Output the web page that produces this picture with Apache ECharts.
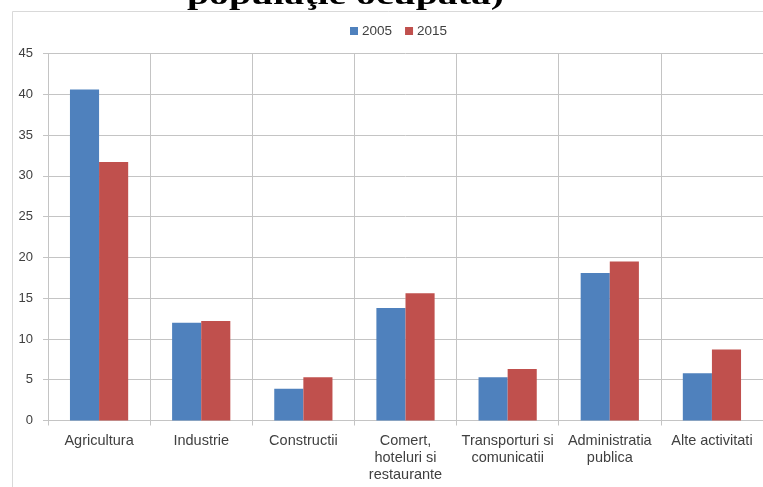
<!DOCTYPE html>
<html>
<head>
<meta charset="utf-8">
<script src="https://cdn.jsdelivr.net/npm/echarts@6/dist/echarts.min.js"></script>
<style>
  html, body { margin: 0; padding: 0; background: #ffffff; }
  #chart { width: 763px; height: 487px; }
</style>
</head>
<body>
<div id="chart"></div>
<script>
// Employment structure by sector (% of employed population)
const categories = [
  'Agricultura',
  'Industrie',
  'Constructii',
  'Comert,\nhoteluri si\nrestaurante',
  'Transporturi si\ncomunicatii',
  'Administratia\npublica',
  'Alte activitati'
];
const seriesNames = ['2005', '2015'];
const values2005 = [40.6, 12.0, 3.9, 13.8, 5.3, 18.1, 5.8];
const values2015 = [31.7, 12.2, 5.3, 15.6, 6.3, 19.5, 8.7];
const yTicks = { min: 0, max: 45, step: 5 };
const titleText = 'populaţie ocupată)';

const gridColor = '#c4c4c4';
const labelColor = '#404040';
const uiFont = 'Liberation Sans';

const chart = echarts.init(document.getElementById('chart'), null, { renderer: 'canvas' });

chart.setOption({
  backgroundColor: '#ffffff',
  animation: false,
  color: ['#4f81bd', '#c0504d'],
  graphic: [
    {
      // chart area frame
      type: 'rect',
      silent: true,
      z: -10,
      shape: { x: 12.5, y: 11.5, width: 820, height: 560 },
      style: { fill: null, stroke: '#d9d9d9', lineWidth: 1 }
    },
    {
      // caption text running above the chart frame
      type: 'text',
      silent: true,
      x: 187,
      y: -3,
      scaleX: 1.42,
      style: {
        text: titleText,
        x: 0,
        y: 0,
        font: 'bold 28px "Liberation Serif", "Times New Roman", serif',
        fill: '#000000',
        textAlign: 'left',
        textVerticalAlign: 'middle'
      }
    }
  ],
  legend: {
    data: seriesNames,
    top: 19,
    left: 345,
    itemWidth: 8,
    itemHeight: 8,
    itemGap: 13,
    icon: 'rect',
    textStyle: { fontFamily: uiFont, fontSize: 13.5, color: labelColor, padding: [0, 0, 0, -1] }
  },
  grid: {
    left: 48,
    right: 0,
    top: 53.5,
    bottom: 66.5,
    containLabel: false
  },
  xAxis: {
    type: 'category',
    data: categories,
    boundaryGap: true,
    axisLine: { show: true, lineStyle: { color: gridColor, width: 1 } },
    axisTick: { show: true, length: 5, alignWithLabel: false, lineStyle: { color: gridColor } },
    splitLine: { show: true, lineStyle: { color: gridColor, width: 1 } },
    axisLabel: {
      interval: 0,
      margin: 12,
      fontFamily: uiFont,
      fontSize: 14.5,
      lineHeight: 17,
      color: labelColor,
      align: 'center'
    }
  },
  yAxis: {
    type: 'value',
    min: yTicks.min,
    max: yTicks.max,
    interval: yTicks.step,
    axisLine: { show: true, lineStyle: { color: gridColor, width: 1 } },
    axisTick: { show: true, length: 5, lineStyle: { color: gridColor } },
    splitLine: { show: true, lineStyle: { color: gridColor, width: 1 } },
    axisLabel: {
      margin: 15,
      fontFamily: uiFont,
      fontSize: 13,
      color: labelColor
    }
  },
  series: [
    {
      name: seriesNames[0],
      type: 'bar',
      data: values2005,
      barGap: '0%',
      barCategoryGap: '43%'
    },
    {
      name: seriesNames[1],
      type: 'bar',
      data: values2015,
      barGap: '0%',
      barCategoryGap: '43%'
    }
  ]
});
</script>
</body>
</html>
